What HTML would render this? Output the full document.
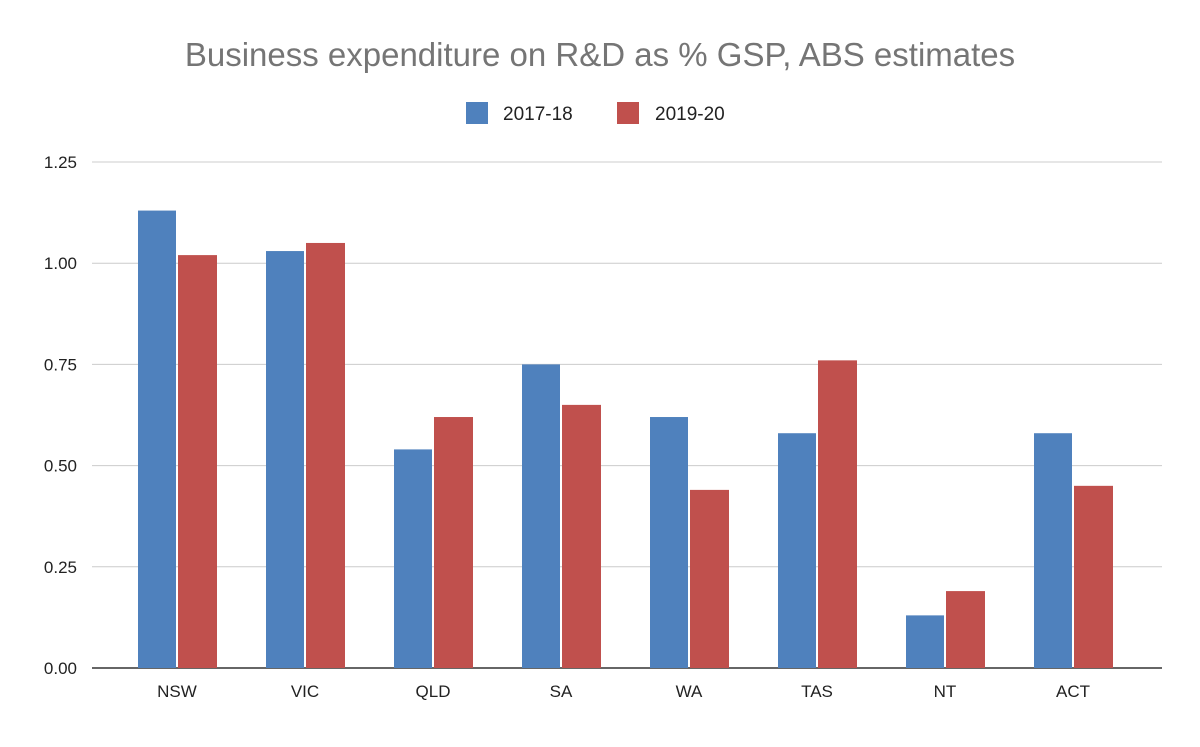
<!DOCTYPE html>
<html><head><meta charset="utf-8"><style>
body{margin:0;background:#fff;font-family:"Liberation Sans",sans-serif;}
</style></head><body>
<svg id="chart" width="1200" height="742" xmlns="http://www.w3.org/2000/svg">
<rect width="1200" height="742" fill="#fff"/>
<text x="600" y="66" text-anchor="middle" font-size="33" fill="#757575" font-family="Liberation Sans, sans-serif">Business expenditure on R&amp;D as % GSP, ABS estimates</text>
<g>
<rect x="466" y="102" width="22" height="22" fill="#4f81bd"/>
<text x="503" y="120" font-size="19" fill="#222">2017-18</text>
<rect x="617" y="102" width="22" height="22" fill="#c0504d"/>
<text x="655" y="120" font-size="19" fill="#222">2019-20</text>
</g>
<g id="grid"></g><g id="bars"></g><g id="labels"></g>
</svg>
<script>
const categories=["NSW","VIC","QLD","SA","WA","TAS","NT","ACT"];
const series2017=[1.13,1.03,0.54,0.75,0.62,0.58,0.13,0.58];
const series2019=[1.02,1.05,0.62,0.65,0.44,0.76,0.19,0.45];
const yTicks=[0,0.25,0.5,0.75,1.0,1.25];
const yTickLabels=["0.00","0.25","0.50","0.75","1.00","1.25"];
const NS="http://www.w3.org/2000/svg";
const y0=668,y1=162,yMax=1.25;
const y=v=>y0-(v/yMax)*(y0-y1);
const bandL=113,bandW=128;
const x=i=>bandL+bandW*(i+0.5);
const grid=document.getElementById('grid'),bars=document.getElementById('bars'),labels=document.getElementById('labels');
function mk(tag,attrs,parent){const e=document.createElementNS(NS,tag);for(const k in attrs)e.setAttribute(k,attrs[k]);parent.appendChild(e);return e;}
yTicks.forEach((t,i)=>{
 const l=mk('line',{x1:92,x2:1162,y1:y(t),y2:y(t),stroke:t===0?'#333':'#ccc','stroke-width':t===0?1.5:1},grid);
 
 
 const tx=mk('text',{x:77,y:y(t)+6,'text-anchor':'end','font-size':17,fill:'#222'},labels);
 tx.textContent=yTickLabels[i];
 
 
});
categories.forEach((c,i)=>{
 const cx=x(i);
 const b1=mk('rect',{x:cx-39,y:y(series2017[i]),width:38,height:y0-y(series2017[i]),fill:'#4f81bd'},bars);
 
 
 const b2=mk('rect',{x:cx+1,y:y(series2019[i]),width:39,height:y0-y(series2019[i]),fill:'#c0504d'},bars);
 
 
 const tx=mk('text',{x:cx,y:697,'text-anchor':'middle','font-size':17,fill:'#222'},labels);
 tx.textContent=c;
 
 
});
</script>
</body></html>
